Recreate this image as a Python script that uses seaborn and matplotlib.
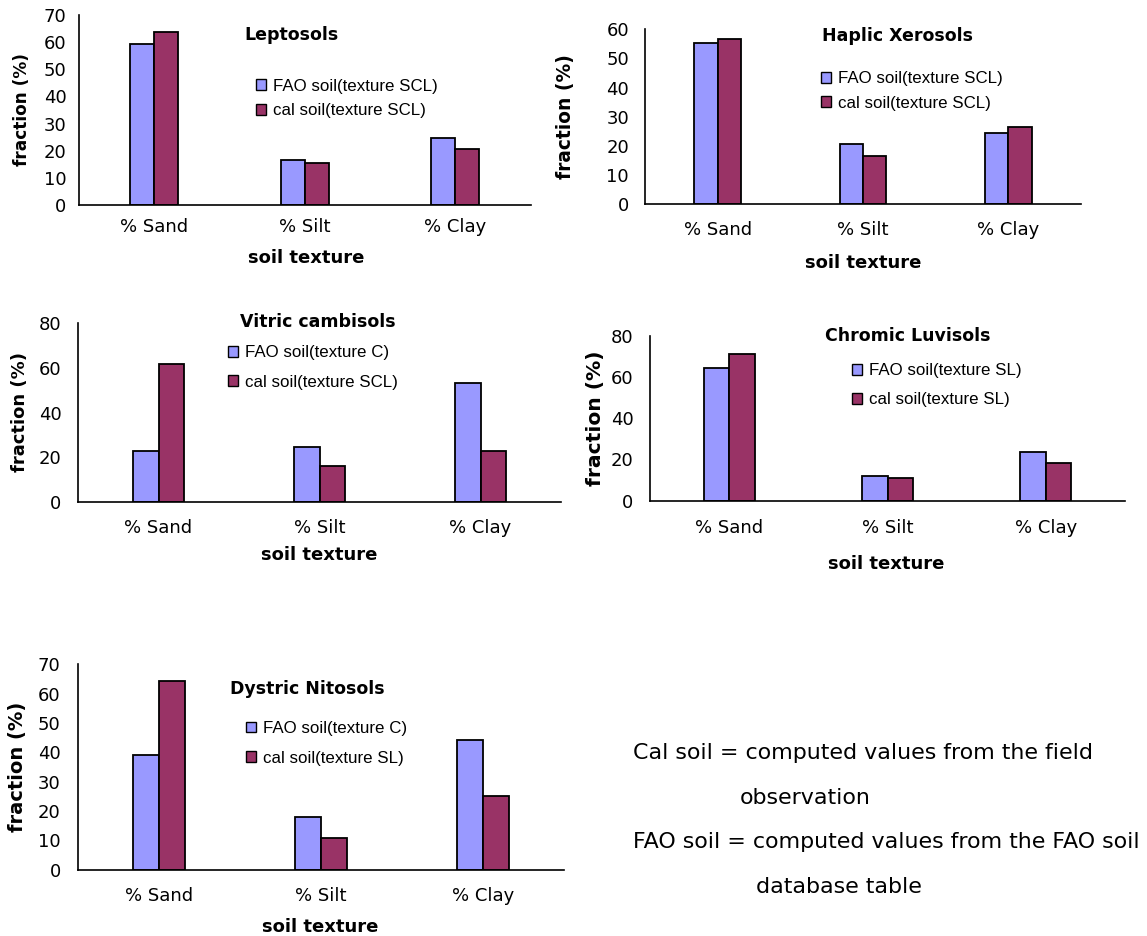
import matplotlib
matplotlib.use("Agg")
import matplotlib.pyplot as plt
from matplotlib.patches import Patch
import seaborn as sns
import pandas as pd

# ---------------- data ----------------
categories = ["% Sand", "% Silt", "% Clay"]
series = ["FAO", "cal"]

lepto_fao = [59.2, 16.5, 24.8]
lepto_cal = [63.8, 15.3, 20.6]
haplic_fao = [55.2, 20.7, 24.5]
haplic_cal = [56.8, 16.6, 26.3]
vitric_fao = [22.9, 24.5, 53.1]
vitric_cal = [61.6, 16.2, 22.7]
chromic_fao = [64.5, 11.8, 23.5]
chromic_cal = [71.0, 10.8, 18.1]
dystric_fao = [39.0, 17.9, 44.2]
dystric_cal = [64.4, 10.8, 25.0]

titles = ["Leptosols", "Haplic Xerosols", "Vitric cambisols",
          "Chromic Luvisols", "Dystric Nitosols"]
legend_labels = [
    ["FAO soil(texture SCL)", "cal soil(texture SCL)"],
    ["FAO soil(texture SCL)", "cal soil(texture SCL)"],
    ["FAO soil(texture C)", "cal soil(texture SCL)"],
    ["FAO soil(texture SL)", "cal soil(texture SL)"],
    ["FAO soil(texture C)", "cal soil(texture SL)"],
]
y_max = [70, 60, 80, 80, 70]
y_step = [10, 10, 20, 20, 10]
ylabel_text = "fraction (%)"
xlabel_text = "soil texture"
note_lines = ["Cal soil = computed values from the field", "observation",
              "FAO soil = computed values from the FAO soil", "database table"]

fao_sets = [lepto_fao, haplic_fao, vitric_fao, chromic_fao, dystric_fao]
cal_sets = [lepto_cal, haplic_cal, vitric_cal, chromic_cal, dystric_cal]

# ---------------- style ----------------
sns.set_style("white")
plt.rcParams["font.family"] = ["DejaVu Sans"]
plt.rcParams["text.color"] = "black"
plt.rcParams["axes.labelcolor"] = "black"
plt.rcParams["xtick.color"] = "black"
plt.rcParams["ytick.color"] = "black"
FAO_C = "#9999FF"
CAL_C = "#993366"
palette = {"FAO": FAO_C, "cal": CAL_C}

W, H = 1147, 936
fig = plt.figure(figsize=(W / 100, H / 100), dpi=100)

# layout in pixels (left, right, top, bottom)
boxes = [
    (79, 530.5, 15, 205),
    (645, 1081, 29.3, 204),
    (78, 561, 323.3, 501.7),
    (650, 1125, 335.7, 500.7),
    (78, 564, 664.3, 869.7),
]
title_pos = [(292, 35), (897, 36), (317.5, 321.7), (908, 336), (307, 689)]
ylabel_pos = [(22, None), (566, None), (20, None), (595, None), (18, None)]
ylabel_size = [12.2, 13.4, 13.0, 14.6, 14.0]
xlabel_pos = [(306, 258), (863, 263.3), (319, 555), (886, 564.3), (320, 926.5)]
xtick_pad = [9.7, 12.0, 12.8, 13.5, 12.8]
ytick_pad = [4.0, 6.5, 7.0, 7.0, 7.5]
legend_anchor = [(256, 98.5), (821, 91), (228, 367.5), (852, 385.3), (246, 743.3)]
legend_spacing = [0.56, 0.54, 0.84, 0.82, 0.86]

for i in range(5):
    L, R, T, B = boxes[i]
    ax = fig.add_axes([L / W, 1 - B / H, (R - L) / W, (B - T) / H])
    df = pd.DataFrame({
        "texture": categories * 2,
        "series": ["FAO"] * 3 + ["cal"] * 3,
        "value": list(fao_sets[i]) + list(cal_sets[i]),
    })
    sns.barplot(data=df, x="texture", y="value", hue="series",
                order=categories, hue_order=series, palette=palette,
                width=0.32, saturation=1, edgecolor="black", linewidth=1.3,
                legend=False, ax=ax, errorbar=None)
    ax.set_xlim(-0.5, 2.5)
    ax.set_ylim(0, y_max[i])
    ax.set_yticks(list(range(0, y_max[i] + 1, y_step[i])))
    ax.set_xticks([0, 1, 2])
    ax.set_xticklabels(categories)
    ax.set_xticks([-0.5, 0.5, 1.5, 2.5], minor=True)
    ax.tick_params(axis="x", which="major", length=0, pad=xtick_pad[i],
                   labelsize=13, colors="black")
    ax.tick_params(axis="x", which="minor", length=5, width=1.2,
                   direction="out", color="black")
    ax.tick_params(axis="y", which="major", length=5, width=1.2,
                   direction="out", pad=ytick_pad[i], labelsize=13,
                   colors="black")
    for s in ["top", "right"]:
        ax.spines[s].set_visible(False)
    for s in ["left", "bottom"]:
        ax.spines[s].set_color("black")
        ax.spines[s].set_linewidth(1.2)
    ax.set_facecolor("white")

    # axis labels
    ax.set_xlabel(xlabel_text, fontsize=13, fontweight="bold", va="center",
                  color="black")
    xl_x, xl_y = xlabel_pos[i]
    ax.xaxis.set_label_coords((xl_x - L) / (R - L), (B - xl_y) / (B - T))
    ax.set_ylabel(ylabel_text, fontsize=ylabel_size[i], fontweight="bold",
                  va="center", ha="center", color="black")
    yl_x = ylabel_pos[i][0]
    ax.yaxis.set_label_coords((yl_x - L) / (R - L), 0.5)

    # title
    tx, ty = title_pos[i]
    fig.text(tx / W, 1 - ty / H, titles[i], ha="center", va="center",
             fontsize=12.5, fontweight="bold", color="black")

    # legend
    handles = [Patch(facecolor=FAO_C, edgecolor="black", linewidth=1.0),
               Patch(facecolor=CAL_C, edgecolor="black", linewidth=1.0)]
    lx, ly = legend_anchor[i]
    leg = ax.legend(handles, legend_labels[i], loc="center left",
                    bbox_to_anchor=(lx / W, 1 - ly / H),
                    bbox_transform=fig.transFigure, frameon=False,
                    borderpad=0, borderaxespad=0, handlelength=0.6,
                    handleheight=0.6, handletextpad=0.4,
                    labelspacing=legend_spacing[i],
                    prop={"family": "Liberation Sans", "size": 12.2})
    for t in leg.get_texts():
        t.set_color("black")

# explanatory note
note_pos = [(633, 753, "left"), (805, 798, "center"),
            (633, 842, "left"), (839, 887, "center")]
for (x, y, ha), line in zip(note_pos, note_lines):
    fig.text(x / W, 1 - y / H, line, ha=ha, va="center", fontsize=15.9,
             color="black")

fig.savefig("out.png", dpi=100, facecolor="white")
